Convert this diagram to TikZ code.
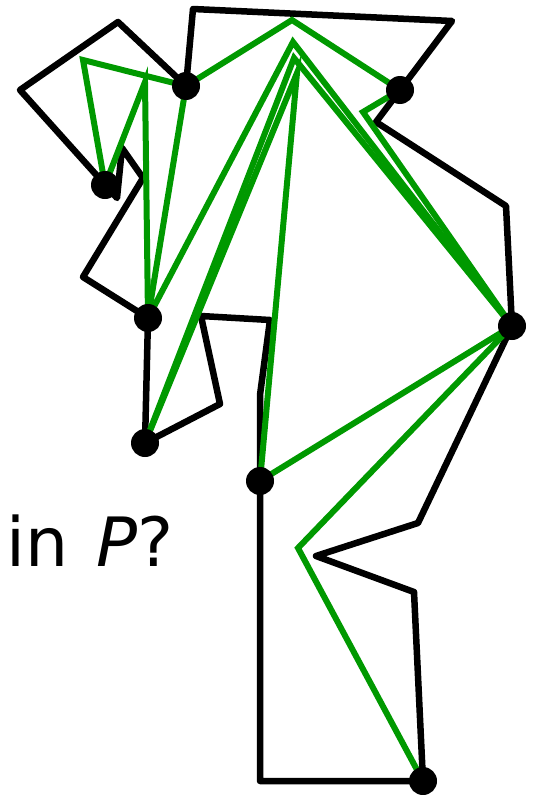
\documentclass[tikz,border=0pt]{standalone}
\usepackage{fontspec}
\setmainfont{DejaVu Sans}
\definecolor{vgreen}{RGB}{0,153,0}
\begin{document}
\begin{tikzpicture}[x=1pt,y=-1pt,
  boundary/.style={draw=black, line width=6.5pt, line join=round, line cap=round},
  sight/.style={draw=vgreen, line width=6pt, line join=miter, line cap=round},
  guard/.style={circle, fill=black, minimum size=28pt, inner sep=0pt}]
\useasboundingbox (0,0) rectangle (539,795);
% polygon corners
\coordinate (p1) at (260,781);
\coordinate (p2) at (260,395);
\coordinate (p3) at (270,320);
\coordinate (p4) at (201,316);
\coordinate (p5) at (220,404);
\coordinate (p6) at (83,277);
\coordinate (p7) at (143,178);
\coordinate (p8) at (122,148);
\coordinate (p9) at (117,198);
\coordinate (p10) at (20,90);
\coordinate (p11) at (118,22);
\coordinate (p12) at (193,9);
\coordinate (p13) at (452,21);
\coordinate (p14) at (376,122);
\coordinate (p15) at (506,206);
\coordinate (p16) at (418,523);
\coordinate (p17) at (316,556);
\coordinate (p18) at (414,592);
% guards
\coordinate (gA) at (186,86);
\coordinate (gB) at (400,90);
\coordinate (gC) at (105,185);
\coordinate (gD) at (148,318);
\coordinate (gE) at (145,443);
\coordinate (gF) at (512,326);
\coordinate (gG) at (260,481);
\coordinate (gH) at (423,781);
% green bend points
\coordinate (q1) at (83,60);
\coordinate (q2) at (145,82);
\coordinate (q3) at (292,20);
\coordinate (q4) at (363,112);
\coordinate (q5) at (293,42);
\coordinate (q6) at (294,58);
\coordinate (q7) at (297,73);
\coordinate (q8) at (298,548);
% polygon
\draw[boundary] (gH) -- (p1) -- (p2) -- (p3) -- (p4) -- (p5) -- (gE) -- (gD) -- (p6) -- (p7) -- (p8) -- (p9) -- (p10) -- (p11) -- (gA) -- (p12) -- (p13) -- (p14) -- (p15) -- (gF) -- (p16) -- (p17) -- (p18) -- cycle;
% green paths
\draw[sight] (gA) -- (q1) -- (gC) -- (q2) -- (gD);
\draw[sight] (gD) -- (gA) -- (q3) -- (gB) -- (q4) -- (gF);
\draw[sight] (gD) -- (q5) -- (gF);
\draw[sight] (gE) -- (q6) -- (gF);
\draw[sight] (gE) -- (q7) -- (gG);
\draw[sight] (gG) -- (gF);
\draw[sight] (gF) -- (q8) -- (gH);
% guard dots
\foreach \g in {gA,gB,gC,gD,gE,gF,gG,gH}
  \node[guard] (n\g) at (\g) {};
% text
\node[anchor=base west, inner sep=0pt, font=\fontsize{68}{68}\selectfont] (lbl) at (6,566) {in\hspace{0.42em}\textit{P}?};
\end{tikzpicture}
\end{document}
